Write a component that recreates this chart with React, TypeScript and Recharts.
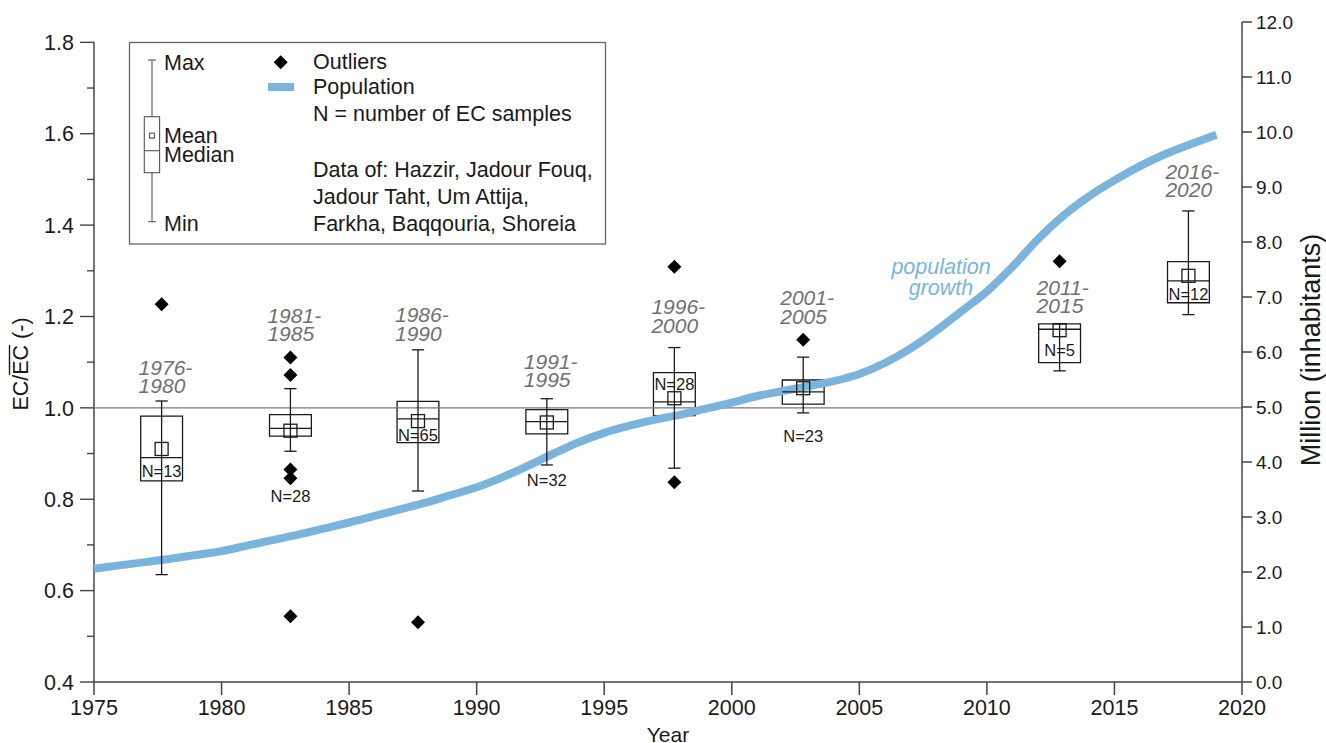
import {
  ComposedChart,
  Line,
  Scatter,
  XAxis,
  YAxis,
  ReferenceArea,
  ReferenceLine,
} from "recharts"

const FONT = "'Liberation Sans', Arial, Helvetica, sans-serif"
const BLUE = "#7ab4dd"
const INK = "#1a1a1a"
const AXIS = "#444"

// box plots, one per 5-year period
const periods = ["1976-1980", "1981-1985", "1986-1990", "1991-1995", "1996-2000", "2001-2005", "2011-2015", "2016-2020"]
const centerYear = [1977.65, 1982.7, 1987.7, 1992.75, 1997.75, 2002.8, 2012.85, 2017.9]
const minVals = [0.635, 0.905, 0.818, 0.875, 0.868, 0.989, 1.081, 1.204]
const q1Vals = [0.84, 0.938, 0.924, 0.943, 0.983, 1.008, 1.099, 1.23]
const medianVals = [0.891, 0.955, 0.976, 0.97, 1.013, 1.035, 1.172, 1.278]
const q3Vals = [0.982, 0.985, 1.014, 0.996, 1.077, 1.061, 1.184, 1.32]
const maxVals = [1.015, 1.042, 1.127, 1.02, 1.132, 1.111, 1.184, 1.431]
const meanVals = [0.91, 0.95, 0.971, 0.968, 1.021, 1.043, 1.17, 1.289]
const sampleCounts = [13, 28, 65, 32, 28, 23, 5, 12]
const outlierVals = [
  [1.227],
  [1.11, 1.072, 0.865, 0.846, 0.544],
  [0.531],
  [],
  [1.309, 0.837],
  [1.149],
  [1.321],
  [],
]

// where the annotations sit, in EC units
const periodLabelAt = [1.048, 1.162, 1.163, 1.062, 1.181, 1.201, 1.224, 1.477]
const countLabelAt = [0.862, 0.807, 0.94, 0.842, 1.052, 0.938, 1.127, 1.249]

// population (million inhabitants)
const popYears = [
  1975, 1976, 1977, 1978, 1979, 1980, 1981, 1982, 1983, 1984, 1985, 1986, 1987, 1988, 1989,
  1990, 1991, 1992, 1993, 1994, 1995, 1996, 1997, 1998, 1999, 2000, 2001, 2002, 2003, 2004,
  2005, 2006, 2007, 2008, 2009, 2010, 2011, 2012, 2013, 2014, 2015, 2016, 2017, 2018, 2019,
]
const popVals = [
  2.06, 2.12, 2.18, 2.24, 2.31, 2.38, 2.48, 2.58, 2.68, 2.79, 2.9, 3.02, 3.14, 3.26, 3.4,
  3.54, 3.72, 3.93, 4.15, 4.36, 4.53, 4.66, 4.77, 4.86, 4.97, 5.08, 5.2, 5.29, 5.38, 5.47,
  5.6, 5.8, 6.06, 6.38, 6.74, 7.1, 7.55, 8.05, 8.48, 8.83, 9.12, 9.38, 9.6, 9.78, 9.95,
]

const yearTicks = [1975, 1980, 1985, 1990, 1995, 2000, 2005, 2010, 2015, 2020]
const ecTicks = [0.4, 0.5, 0.6, 0.7, 0.8, 0.9, 1.0, 1.1, 1.2, 1.3, 1.4, 1.5, 1.6, 1.7, 1.8]
const popTicks = [0, 1, 2, 3, 4, 5, 6, 7, 8, 9, 10, 11, 12]

const popData = popYears.map((year, i) => ({ year, pop: popVals[i] }))
const meanData = centerYear.map((year, i) => ({ year, v: meanVals[i] }))
const outlierData = centerYear.flatMap((year, i) => outlierVals[i].map((v) => ({ year, v })))
const periodData = centerYear.map((year, i) => ({ year, v: periodLabelAt[i], text: periods[i] }))
const countData = centerYear.map((year, i) => ({ year, v: countLabelAt[i], text: `N=${sampleCounts[i]}` }))

const HALF_BOX = 0.82
const HALF_CAP = 0.24

const EcTick = (props: any) => {
  const { x, y, payload } = props
  const v = payload.value as number
  const major = Math.round(v * 10) % 2 === 0
  const axisX = x + 14 + 6
  return (
    <g>
      <line x1={axisX - (major ? 14 : 7)} x2={axisX} y1={y} y2={y} stroke={AXIS} strokeWidth={1.4} />
      {major && (
        <text x={axisX - 20} y={y} dy="0.36em" textAnchor="end" fontSize={21.5} fill={INK} fontFamily={FONT}>
          {v.toFixed(1)}
        </text>
      )}
    </g>
  )
}

const Square = (p: any) => (
  <rect x={p.cx - 6.5} y={p.cy - 6.5} width={13} height={13} fill="none" stroke={INK} strokeWidth={1.3} />
)

const Diamond = (p: any) => (
  <path d={`M${p.cx},${p.cy - 7} L${p.cx + 7},${p.cy} L${p.cx},${p.cy + 7} L${p.cx - 7},${p.cy} Z`} fill="#000" />
)

const PeriodLabel = (p: any) => {
  const [a, b] = String(p.payload.text).split("-")
  const left = p.cx - 23
  return (
    <text fontSize={21} fontStyle="italic" fill="#707070" fontFamily={FONT}>
      <tspan x={left} y={p.cy - 18.5} dy="0.36em">{a}-</tspan>
      <tspan x={left} y={p.cy} dy="0.36em">{b}</tspan>
    </text>
  )
}

const CountLabel = (p: any) => (
  <text x={p.cx} y={p.cy} dy="0.36em" textAnchor="middle" fontSize={16.5} fill={INK} fontFamily={FONT}>
    {p.payload.text}
  </text>
)

export default function App() {
  const boxStroke = { stroke: INK, strokeWidth: 1.3 }
  return (
    <div style={{ position: "absolute", left: 0, top: 0, width: 1326, height: 743, background: "#fff", fontFamily: FONT }}>
      <ComposedChart width={1326} height={743} margin={{ top: 22, right: 0, bottom: 0, left: 0 }}>
        <XAxis
          dataKey="year"
          type="number"
          domain={[1975, 2020]}
          ticks={yearTicks}
          tickSize={13}
          tickMargin={5}
          height={61}
          stroke={AXIS}
          strokeWidth={1.5}
          tick={{ fontSize: 21.5, fill: INK, fontFamily: FONT }}
        />
        <YAxis
          yAxisId="ec"
          type="number"
          domain={[0.4, 1.8445]}
          ticks={ecTicks}
          width={94}
          axisLine={false}
          tickLine={{ stroke: "transparent" }}
          tickSize={14}
          tickMargin={6}
          tick={<EcTick />}
        />
        <YAxis
          yAxisId="pop"
          orientation="right"
          type="number"
          domain={[0, 12]}
          ticks={popTicks}
          width={84}
          tickSize={10}
          tickMargin={4}
          stroke={AXIS}
          strokeWidth={1.5}
          tickFormatter={(v: number) => v.toFixed(1)}
          tick={{ fontSize: 19, fill: INK, fontFamily: FONT }}
        />

        <ReferenceLine
          yAxisId="ec"
          segment={[{ x: 1975, y: 0.4 }, { x: 1975, y: 1.8 }]}
          stroke={AXIS}
          strokeWidth={1.5}
          ifOverflow="visible"
        />
        <ReferenceLine yAxisId="ec" y={1.0} stroke="#777" strokeWidth={1.2} />

        <Line
          yAxisId="pop"
          data={popData}
          dataKey="pop"
          type="monotone"
          stroke={BLUE}
          strokeWidth={8}
          dot={false}
          activeDot={false}
          isAnimationActive={false}
        />

        {centerYear.map((c, i) => (
          <ReferenceLine
            key={`w${i}`}
            yAxisId="ec"
            segment={[{ x: c, y: minVals[i] }, { x: c, y: maxVals[i] }]}
            {...boxStroke}
          />
        ))}
        {centerYear.map((c, i) => (
          <ReferenceLine
            key={`ct${i}`}
            yAxisId="ec"
            segment={[{ x: c - HALF_CAP, y: maxVals[i] }, { x: c + HALF_CAP, y: maxVals[i] }]}
            {...boxStroke}
          />
        ))}
        {centerYear.map((c, i) => (
          <ReferenceLine
            key={`cb${i}`}
            yAxisId="ec"
            segment={[{ x: c - HALF_CAP, y: minVals[i] }, { x: c + HALF_CAP, y: minVals[i] }]}
            {...boxStroke}
          />
        ))}
        {centerYear.map((c, i) => (
          <ReferenceArea
            key={`b${i}`}
            yAxisId="ec"
            x1={c - HALF_BOX}
            x2={c + HALF_BOX}
            y1={q1Vals[i]}
            y2={q3Vals[i]}
            fill="#fff"
            fillOpacity={0}
            {...boxStroke}
          />
        ))}
        {centerYear.map((c, i) => (
          <ReferenceLine
            key={`m${i}`}
            yAxisId="ec"
            segment={[{ x: c - HALF_BOX, y: medianVals[i] }, { x: c + HALF_BOX, y: medianVals[i] }]}
            {...boxStroke}
          />
        ))}

        <Scatter yAxisId="ec" data={meanData} dataKey="v" shape={<Square />} isAnimationActive={false} />
        <Scatter yAxisId="ec" data={outlierData} dataKey="v" shape={<Diamond />} isAnimationActive={false} />
        <Scatter yAxisId="ec" data={periodData} dataKey="v" shape={<PeriodLabel />} isAnimationActive={false} />
        <Scatter yAxisId="ec" data={countData} dataKey="v" shape={<CountLabel />} isAnimationActive={false} />
      </ComposedChart>

      <svg width={1326} height={743} style={{ position: "absolute", left: 0, top: 0, pointerEvents: "none" }} fontFamily={FONT}>
        {/* axis titles */}
        <g transform="translate(20,364) rotate(-90)">
          <text x={0} y={0} dy="0.36em" textAnchor="middle" fontSize={21.5} fill={INK}>
            EC/EC (-)
          </text>
          <line x1={-10.8} x2={19} y1={-10.5} y2={-10.5} stroke={INK} strokeWidth={1.4} />
        </g>
        <text transform="translate(1310,350) rotate(-90)" dy="0.36em" textAnchor="middle" fontSize={27} fill={INK}>
          Million (inhabitants)
        </text>
        <text x={668} y={734} dy="0.36em" textAnchor="middle" fontSize={21} fill={INK}>
          Year
        </text>

        {/* population growth note */}
        <text fontSize={21.5} fontStyle="italic" fill={BLUE} textAnchor="middle">
          <tspan x={941} y={266} dy="0.36em">population</tspan>
          <tspan x={941} y={287} dy="0.36em">growth</tspan>
        </text>

        {/* legend */}
        <rect x={129.5} y={42.5} width={476} height={201.5} fill="#fff" stroke="#666" strokeWidth={1.3} />
        <g stroke="#555" strokeWidth={1.1} fill="none">
          <line x1={152} x2={152} y1={60} y2={116.7} />
          <line x1={152} x2={152} y1={172.7} y2={221.7} />
          <line x1={148} x2={156} y1={60} y2={60} />
          <line x1={148} x2={156} y1={221.7} y2={221.7} />
          <rect x={144.3} y={116.7} width={15.3} height={56} />
          <line x1={144.3} x2={159.6} y1={150.7} y2={150.7} />
          <rect x={149.5} y={133.2} width={5} height={5} />
        </g>
        <g fontSize={21.5} fill={INK}>
          <text x={164} y={62.3} dy="0.36em">Max</text>
          <text x={164} y={135} dy="0.36em">Mean</text>
          <text x={164} y={154.3} dy="0.36em">Median</text>
          <text x={164} y={223} dy="0.36em">Min</text>
        </g>
        <path d="M280.7,55.3 L287.7,62.3 L280.7,69.3 L273.7,62.3 Z" fill="#000" />
        <rect x={268} y={83} width={26} height={8} fill={BLUE} />
        <g fontSize={21.5} fill={INK}>
          <text x={313} y={61.7} dy="0.36em">Outliers</text>
          <text x={313} y={86.7} dy="0.36em">Population</text>
          <text x={313} y={113.5} dy="0.36em">N = number of EC samples</text>
          <text x={313} y={169} dy="0.36em">Data of: Hazzir, Jadour Fouq,</text>
          <text x={313} y={196} dy="0.36em">Jadour Taht, Um Attija,</text>
          <text x={313} y={223} dy="0.36em">Farkha, Baqqouria, Shoreia</text>
        </g>
      </svg>
    </div>
  )
}
